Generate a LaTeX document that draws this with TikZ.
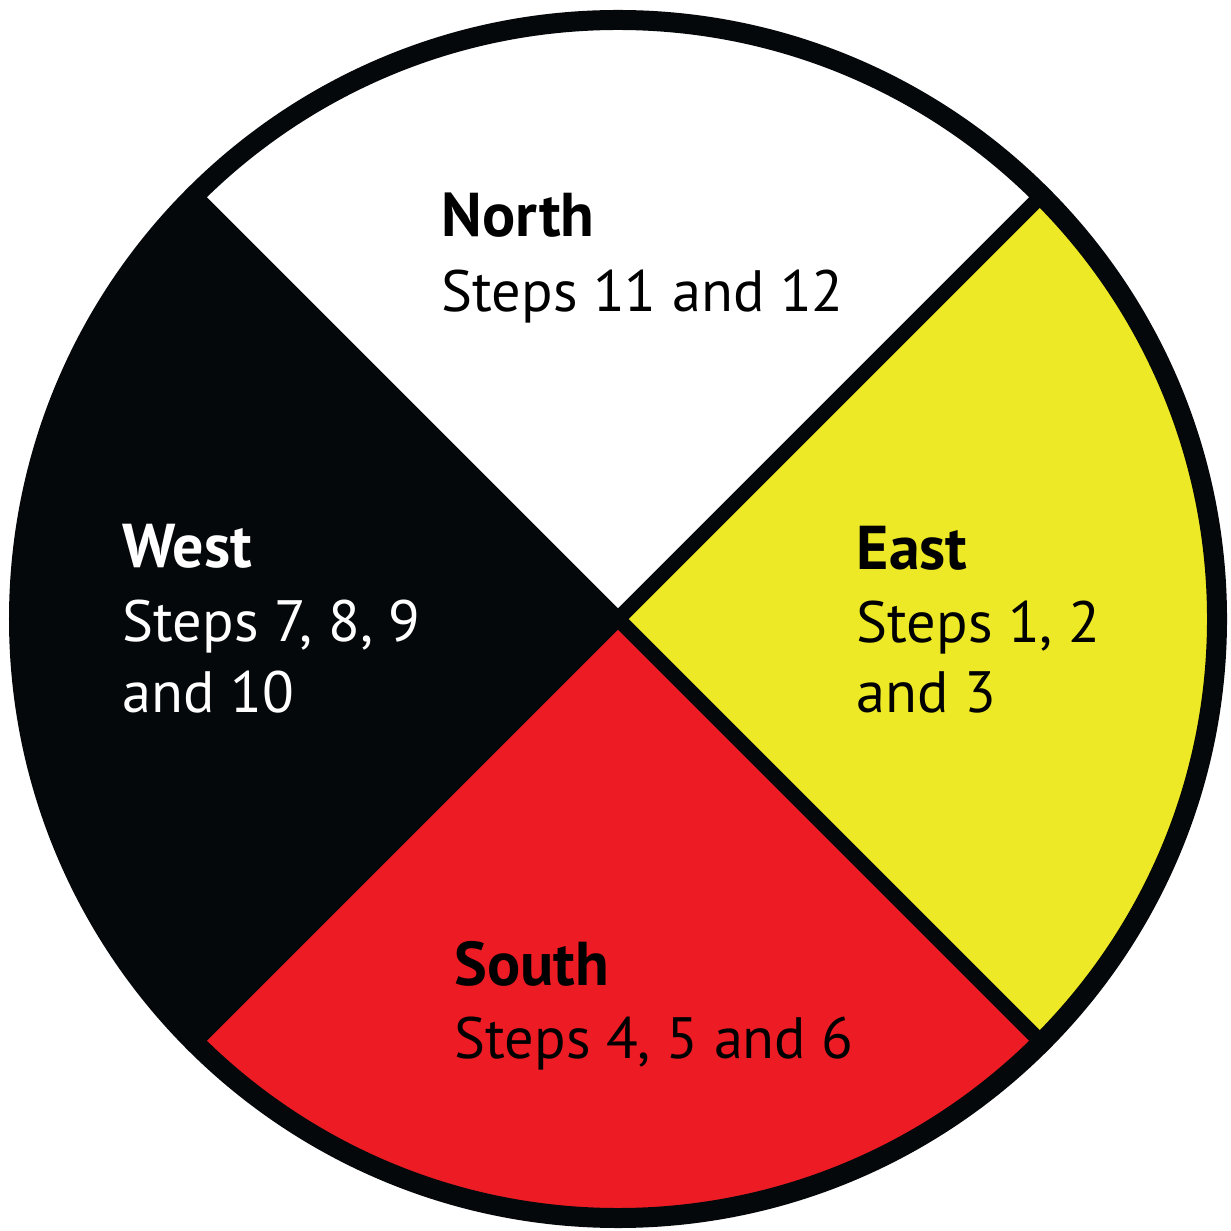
\documentclass[tikz,border=0pt]{standalone}
\usepackage{fontspec}
\setmainfont{PT Sans}
\usetikzlibrary{positioning, calc}

\definecolor{wheelyellow}{RGB}{238,233,38}
\definecolor{wheelred}{RGB}{237,28,36}
\definecolor{wheelblack}{RGB}{5,8,10}

\begin{document}
\begin{tikzpicture}[
  head/.style={font=\fontsize{17.6}{19}\selectfont\bfseries, anchor=base west, inner sep=0pt},
  line/.style={font=\fontsize{16.6}{20}\selectfont, anchor=base west, inner sep=0pt},
  rim/.style={draw=wheelblack, line width=0.2cm},
  spoke/.style={draw=wheelblack, line width=0.15cm},
]
\useasboundingbox (0,0) rectangle (12.31,12.30);
% centre and the four points on the rim
\coordinate (c) at (6.18,6.11);
\coordinate (ne) at ($(c)+(45:5.99)$);
\coordinate (nw) at ($(c)+(135:5.99)$);
\coordinate (sw) at ($(c)+(225:5.99)$);
\coordinate (se) at ($(c)+(315:5.99)$);
% quadrants
\fill[white] (c) -- (ne) arc[start angle=45, end angle=135, radius=5.99] -- cycle;
\fill[wheelblack] (c) -- (nw) arc[start angle=135, end angle=225, radius=5.99] -- cycle;
\fill[wheelred] (c) -- (sw) arc[start angle=225, end angle=315, radius=5.99] -- cycle;
\fill[wheelyellow] (c) -- (se) arc[start angle=-45, end angle=45, radius=5.99] -- cycle;
% spokes and rim
\draw[spoke] (nw) -- (se);
\draw[spoke] (sw) -- (ne);
\draw[rim] (c) circle[radius=5.99];
% north
\node[head] (north) at (4.41,9.93) {North};
\node[line] (northsteps) at (4.41,9.18) {Steps 11 and 12};
% west
\node[head, white] (west) at (1.22,6.62) {West};
\node[line, white] (weststeps) at (1.22,5.88) {Steps 7, 8, 9};
\node[line, white] (weststeps2) at (1.22,5.18) {and 10};
% east
\node[head] (east) at (8.56,6.60) {East};
\node[line] (eaststeps) at (8.56,5.87) {Steps 1, 2};
\node[line] (eaststeps2) at (8.56,5.18) {and 3};
% south
\node[head] (south) at (4.54,2.45) {South};
\node[line] (southsteps) at (4.54,1.72) {Steps 4, 5 and 6};
\end{tikzpicture}
\end{document}
